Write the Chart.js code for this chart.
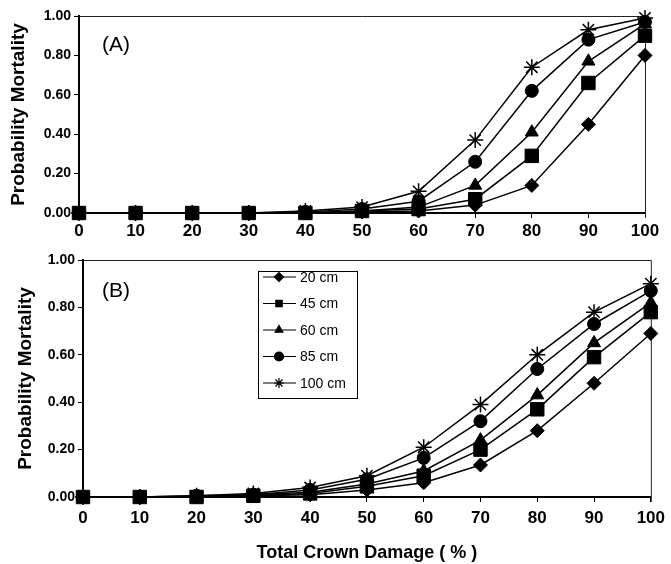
<!DOCTYPE html>
<html>
<head>
<meta charset="utf-8">
<script src="https://cdn.jsdelivr.net/npm/chart.js@4.4.0/dist/chart.umd.min.js"></script>
<style>
  html, body { margin: 0; padding: 0; background: #fff; }
  #wrapA { position: absolute; left: 0; top: 0; width: 671px; height: 245px; }
  #wrapB { position: absolute; left: 0; top: 245px; width: 671px; height: 319px; }
</style>
</head>
<body>
<div id="wrapA"><canvas id="chartA" width="671" height="245"></canvas></div>
<div id="wrapB"><canvas id="chartB" width="671" height="319"></canvas></div>
<script>
/* Probability of mortality vs total crown damage, two panels */
var damage = [0, 10, 20, 30, 40, 50, 60, 70, 80, 90, 100];
var sizes = ['20 cm', '45 cm', '60 cm', '85 cm', '100 cm'];
var yTicks = [0, 0.2, 0.4, 0.6, 0.8, 1.0];

// panel (A)
var a20  = [0, 0, 0, 0, 0,     0.005, 0.01, 0.04, 0.14, 0.45, 0.80];
var a45  = [0, 0, 0, 0, 0,     0.01,  0.02, 0.07, 0.29, 0.66, 0.90];
var a60  = [0, 0, 0, 0, 0,     0.01,  0.03, 0.14, 0.41, 0.77, 0.96];
var a85  = [0, 0, 0, 0, 0.005, 0.02,  0.06, 0.26, 0.62, 0.88, 0.97];
var a100 = [0, 0, 0, 0, 0.01,  0.03,  0.11, 0.37, 0.74, 0.93, 0.99];

// panel (B)
var b20  = [0, 0, 0,     0.005, 0.01,  0.03,  0.06,  0.135, 0.28, 0.48, 0.69];
var b45  = [0, 0, 0,     0.005, 0.015, 0.045, 0.09,  0.20,  0.37, 0.59, 0.78];
var b60  = [0, 0, 0,     0.01,  0.02,  0.055, 0.11,  0.24,  0.43, 0.65, 0.82];
var b85  = [0, 0, 0.005, 0.01,  0.03,  0.075, 0.165, 0.32,  0.54, 0.73, 0.87];
var b100 = [0, 0, 0.005, 0.015, 0.04,  0.09,  0.21,  0.39,  0.60, 0.78, 0.90];

var markers = ['rectRot', 'rect', 'triangle', 'circle', 'star'];
var markerRadius = [7, 9.5, 7.5, 6.5, 8];
var FONT = '"Liberation Sans", Arial, sans-serif';

function makeSets(rows) {
    return rows.map(function (vals, i) {
        return {
            label: sizes[i],
            data: damage.map(function (d, j) { return { x: d, y: vals[j] }; }),
            borderColor: '#000',
            backgroundColor: '#000',
            borderWidth: 1.5,
            pointStyle: markers[i],
            pointRadius: markerRadius[i],
            pointBorderWidth: i === 4 ? 1.5 : 1,
            pointBackgroundColor: '#000',
            pointBorderColor: '#000',
            tension: 0,
            clip: false
        };
    });
}

// thin frame on top and right of the plot area
var frame = {
    id: 'frame',
    beforeDatasetsDraw: function (chart) {
        var a = chart.chartArea, c = chart.ctx;
        c.save();
        c.strokeStyle = '#222';
        c.lineWidth = 1;
        c.beginPath();
        c.moveTo(a.left, a.top + 0.5);
        c.lineTo(a.right + 0.5, a.top + 0.5);
        c.lineTo(a.right + 0.5, a.bottom + 5);
        c.stroke();
        c.restore();
    }
};

// (A) / (B) panel tag
var panelLabel = {
    id: 'panelLabel',
    afterDraw: function (chart, args, opts) {
        if (!opts.text) return;
        var a = chart.chartArea, c = chart.ctx;
        c.save();
        c.font = '21px ' + FONT;
        c.fillStyle = '#000';
        c.textBaseline = 'middle';
        c.fillText(opts.text, a.left + opts.dx, a.top + opts.dy);
        c.restore();
    }
};

// boxed legend inside panel (B)
var boxLegend = {
    id: 'boxLegend',
    afterDraw: function (chart, args, opts) {
        if (!opts.show) return;
        var c = chart.ctx;
        var x = opts.x, y = opts.y;
        c.save();
        c.fillStyle = '#fff';
        c.fillRect(x, y, opts.w, opts.h);
        c.strokeStyle = '#000';
        c.lineWidth = 1;
        c.strokeRect(x + 0.5, y + 0.5, opts.w, opts.h);
        c.font = '14px ' + FONT;
        c.textBaseline = 'middle';
        chart.data.datasets.forEach(function (ds, i) {
            var cy = y + opts.first + i * opts.step;
            c.strokeStyle = '#000';
            c.lineWidth = 1.2;
            c.beginPath();
            c.moveTo(x + 5, cy);
            c.lineTo(x + 38, cy);
            c.stroke();
            c.fillStyle = '#000';
            Chart.helpers.drawPoint(c, {
                pointStyle: ds.pointStyle,
                radius: ds.pointStyle === 'star' ? 5 : 4.5,
                rotation: 0,
                borderWidth: 1.2
            }, x + 21, cy);
            c.fillStyle = '#000';
            c.fillText(ds.label, x + 42, cy + 1);
        });
        c.restore();
    }
};

function makeOptions(p) {
    return {
        responsive: false,
        animation: false,
        layout: { padding: { left: 0, right: p.padRight, top: p.padTop, bottom: 0 } },
        plugins: {
            legend: { display: false },
            tooltip: { enabled: false },
            panelLabel: p.panel,
            boxLegend: p.legend
        },
        scales: {
            x: {
                type: 'linear',
                min: 0,
                max: 100,
                ticks: {
                    stepSize: 10,
                    color: '#000',
                    padding: p.xTickPad,
                    font: { family: FONT, size: 17, weight: 'bold' }
                },
                grid: { display: true, drawOnChartArea: false, drawTicks: true, tickLength: 5, color: '#000' },
                border: { display: true, color: '#000', width: 2 },
                title: {
                    display: p.xTitle,
                    text: 'Total Crown Damage ( % )',
                    color: '#000',
                    padding: { top: 0, bottom: 0 },
                    font: { family: FONT, size: 18, weight: 'bold' }
                },
                afterFit: function (s) { s.height = p.xHeight; }
            },
            y: {
                min: 0,
                max: 1,
                afterBuildTicks: function (s) {
                    s.ticks = yTicks.map(function (v) { return { value: v }; });
                },
                ticks: {
                    color: '#000',
                    padding: 3,
                    font: { family: FONT, size: 14, weight: 'bold' },
                    callback: function (v) { return Number(v).toFixed(2); }
                },
                grid: { display: true, drawOnChartArea: false, drawTicks: true, tickLength: 5, color: '#000' },
                border: { display: true, color: '#000', width: 2 },
                title: {
                    display: true,
                    text: 'Probability Mortality',
                    color: '#000',
                    padding: { top: p.yTitlePad, bottom: 0 },
                    font: { family: FONT, size: 19, weight: 'bold' }
                },
                afterFit: function (s) { s.width = p.plotLeft; }
            }
        }
    };
}

var chartA = new Chart(document.getElementById('chartA').getContext('2d'), {
    type: 'line',
    data: { datasets: makeSets([a20, a45, a60, a85, a100]) },
    options: makeOptions({
        plotLeft: 79, padRight: 26, padTop: 16, xHeight: 32,
        xTickPad: 3, xTitle: false, yTitlePad: 7,
        panel: { text: '(A)', dx: 23, dy: 29 },
        legend: { show: false }
    }),
    plugins: [frame, panelLabel, boxLegend]
});

var chartB = new Chart(document.getElementById('chartB').getContext('2d'), {
    type: 'line',
    data: { datasets: makeSets([b20, b45, b60, b85, b100]) },
    options: makeOptions({
        plotLeft: 83, padRight: 18, padTop: 15, xHeight: 67,
        xTickPad: 6, xTitle: true, yTitlePad: 14,
        panel: { text: '(B)', dx: 19, dy: 31 },
        legend: { show: true, x: 258, y: 26, w: 99, h: 127, first: 6, step: 26.5 }
    }),
    plugins: [frame, panelLabel, boxLegend]
});
</script>
</body>
</html>
